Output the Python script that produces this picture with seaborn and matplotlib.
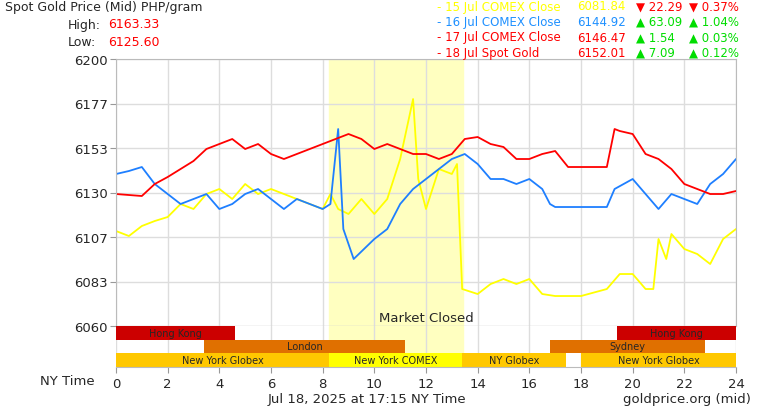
import numpy as np
import pandas as pd
import matplotlib
matplotlib.use("Agg")
import matplotlib.pyplot as plt
import seaborn as sns

# hours (NY time) and prices, PHP/gram
red_hours = [0, 1, 1.5, 2, 2.5, 3, 3.5, 4, 4.5, 5, 5.5, 6, 6.5, 7, 7.5, 8, 8.5, 9, 9.5, 10, 10.5, 11, 11.5,
             12, 12.5, 13, 13.5, 14, 14.5, 15, 15.5, 16, 16.5, 17, 17.5, 18, 19, 19.3, 19.5, 20, 20.5, 21, 21.5,
             22, 22.5, 23, 23.5, 24]
red_px = [195, 197, 185, 178, 170, 162, 150, 145, 140, 150, 145, 155, 160, 155, 150, 145, 140, 135, 140, 150, 145,
          150, 155, 155, 160, 155, 140, 138, 145, 148, 160, 160, 155, 152, 168, 168, 168, 130, 132, 135, 155, 160,
          170, 185, 190, 195, 195, 192]

blue_hours = [0, 0.5, 1, 1.5, 2, 2.5, 3, 3.5, 4, 4.5, 5, 5.5, 6, 6.5, 7, 7.5, 8, 8.3, 8.6, 8.8, 9.2, 9.6, 10,
              10.5, 11, 11.5, 12, 12.5, 13, 13.5, 14, 14.5, 15, 15.5, 16, 16.5, 16.8, 17, 18, 19, 19.3, 20, 20.5,
              21, 21.5, 22, 22.5, 23, 23.5, 24]
blue_px = [175, 172, 168, 185, 195, 205, 200, 195, 210, 205, 195, 190, 200, 210, 200, 205, 210, 205, 130, 230,
           260, 250, 240, 230, 205, 190, 180, 170, 160, 155, 165, 180, 180, 185, 180, 190, 205, 208, 208, 208, 190,
           180, 195, 210, 195, 200, 205, 185, 175, 160]

yellow_hours = [0, 0.5, 1, 1.5, 2, 2.5, 3, 3.5, 4, 4.5, 5, 5.5, 6, 6.5, 7, 7.5, 8, 8.3, 8.6, 9, 9.5, 10, 10.5, 11,
                11.5, 11.7, 12, 12.5, 13, 13.2, 13.4, 14, 14.5, 15, 15.5, 16, 16.5, 17, 17.5, 18, 19, 19.5, 20,
                20.5, 20.8, 21, 21.3, 21.5, 22, 22.5, 23, 23.5, 24]
yellow_px = [232, 237, 227, 222, 218, 205, 210, 195, 190, 200, 185, 195, 190, 195, 200, 205, 210, 195, 210, 215,
             200, 215, 200, 160, 100, 180, 210, 170, 175, 165, 290, 295, 285, 280, 285, 280, 295, 297, 297, 297,
             290, 275, 275, 290, 290, 240, 260, 235, 250, 255, 265, 240, 230]


def px_to_price(px):
    return 6200 - (np.array(px) - 60) / 1.907


legend_names = ["- 15 Jul COMEX Close", "- 16 Jul COMEX Close", "- 17 Jul COMEX Close", "- 18 Jul Spot Gold"]
legend_prices = ["6081.84", "6144.92", "6146.47", "6152.01"]
legend_change = ["▼ 22.29", "▲ 63.09", "▲ 1.54", "▲ 7.09"]
legend_pct = ["▼ 0.37%", "▲ 1.04%", "▲ 0.03%", "▲ 0.12%"]
legend_colors = ["#ffff00", "#1e90ff", "#ff0000", "#ff0000"]
change_colors = ["#ff0000", "#00dd00", "#00dd00", "#00dd00"]

sessions = [  # (name, start, end, row, colour)
    ("Hong Kong", 0, 4.6, 0, "#cc0000"), ("Hong Kong", 19.4, 24, 0, "#cc0000"),
    ("London", 3.4, 11.2, 1, "#e07000"), ("Sydney", 16.8, 22.8, 1, "#e07000"),
    ("New York Globex", 0, 8.25, 2, "#ffc800"), ("New York COMEX", 8.25, 13.4, 2, "#ffff00"),
    ("NY Globex", 13.4, 17.4, 2, "#ffc800"), ("New York Globex", 18, 24, 2, "#ffc800"),
]

sns.set_style("white")
plt.rcParams["font.family"] = ["DejaVu Sans"]
fig = plt.figure(figsize=(7.7, 4.1), dpi=100)
W, H = 770, 410
ax = fig.add_axes([116 / W, 1 - 327 / H, 620 / W, 267 / H])
sx = fig.add_axes([116 / W, 1 - 368 / H, 620 / W, 41 / H], sharex=ax)

ax.axvspan(8.25, 13.42, color="#ffffc0", zorder=0)
sx.axvspan(8.25, 13.42, color="#ffffc0", zorder=0)

df_y = pd.DataFrame({"h": yellow_hours, "p": px_to_price(yellow_px)})
df_b = pd.DataFrame({"h": blue_hours, "p": px_to_price(blue_px)})
df_r = pd.DataFrame({"h": red_hours, "p": px_to_price(red_px)})
sns.lineplot(data=df_y, x="h", y="p", ax=ax, color="#ffff00", lw=1.3)
sns.lineplot(data=df_b, x="h", y="p", ax=ax, color="#1e7fff", lw=1.3)
sns.lineplot(data=df_r, x="h", y="p", ax=ax, color="#ff0000", lw=1.3)

ax.set_xlim(0, 24)
ax.set_ylim(6060, 6200)
yt = np.linspace(6060, 6200, 7)
ax.set_yticks(yt)
ax.set_yticklabels([str(int(round(v))) for v in yt], fontsize=9.5)
ax.set_xticks(range(0, 25, 2))
ax.tick_params(axis="x", labelbottom=False, length=0)
ax.tick_params(axis="y", length=4, left=True, color="#999999", pad=2)
ax.grid(True, color="#dddddd", lw=1)
ax.set_xlabel("")
ax.set_ylabel("")
for s in ax.spines.values():
    s.set_color("#bbbbbb")
ax.text(12, 6061, "Market Closed", ha="center", va="bottom", fontsize=9.5)

for name, a, b, row, c in sessions:
    sx.barh(row, b - a, left=a, height=1, color=c, edgecolor="none")
    sx.text((a + b) / 2, row, name, ha="center", va="center", fontsize=7)
sx.set_ylim(2.5, -0.5)
sx.set_yticks([])
sx.set_xticks(range(0, 25, 2))
sx.set_xticklabels([str(v) for v in range(0, 25, 2)], fontsize=9.5)
sx.tick_params(axis="x", length=4, bottom=True, color="#999999")
sx.grid(True, axis="x", color="#dddddd", lw=1)
sx.set_axisbelow(True)
for s in sx.spines.values():
    s.set_visible(False)
sx.spines["bottom"].set_visible(True)
sx.spines["bottom"].set_color("#bbbbbb")

fig.text(5 / W, 1 - 8 / H, "Spot Gold Price (Mid) PHP/gram", fontsize=9, va="center")
fig.text(68 / W, 1 - 25 / H, "High:", fontsize=9, va="center")
fig.text(108 / W, 1 - 25 / H, "6163.33", fontsize=9, va="center", color="#ff0000")
fig.text(68 / W, 1 - 42 / H, "Low:", fontsize=9, va="center")
fig.text(108 / W, 1 - 42 / H, "6125.60", fontsize=9, va="center", color="#ff0000")
for i in range(4):
    y = 1 - (7 + i * 15.5) / H
    fig.text(437 / W, y, legend_names[i], fontsize=8.5, va="center", color=legend_colors[i])
    fig.text(577 / W, y, legend_prices[i], fontsize=8.5, va="center", color=legend_colors[i])
    fig.text(636 / W, y, legend_change[i], fontsize=8.5, va="center", color=change_colors[i])
    fig.text(689 / W, y, legend_pct[i], fontsize=8.5, va="center", color=change_colors[i])
fig.text(40 / W, 1 - 382 / H, "NY Time", fontsize=9.5, va="center")
fig.text(268 / W, 1 - 400 / H, "Jul 18, 2025 at 17:15 NY Time", fontsize=9.5, va="center")
fig.text(623 / W, 1 - 400 / H, "goldprice.org (mid)", fontsize=9.5, va="center")

fig.savefig("out.png", dpi=100)
